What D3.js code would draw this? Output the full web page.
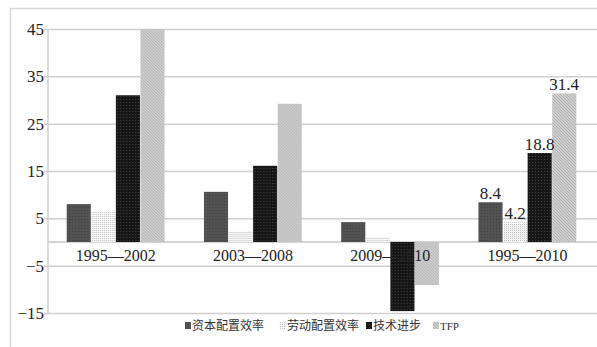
<!DOCTYPE html>
<html>
<head>
<meta charset="utf-8">
<script src="https://cdn.jsdelivr.net/npm/d3@7"></script>
<style>
  html, body { margin: 0; padding: 0; background: #fff; }
  svg { display: block; }
  .serif { font-family: "Liberation Serif", "Times New Roman", "DejaVu Serif", serif; }
  .cjk { font-family: "Noto Sans CJK SC", sans-serif; }
</style>
</head>
<body>
<svg id="chart" width="597" height="347"></svg>
<script>
// Periods and the four components of productivity growth (%)
const periods = ["1995—2002", "2003—2008", "2009—2010", "1995—2010"];
const seriesNames = ["资本配置效率", "劳动配置效率", "技术进步", "TFP"];
const capitalAlloc = [8.0, 10.6, 4.2, 8.4];
const laborAlloc = [6.4, 2.2, 1.0, 4.2];
const techProgress = [31.0, 16.1, -14.6, 18.8];
const tfp = [45.0, 29.2, -9.1, 31.4];
const yTicks = [45, 35, 25, 15, 5, -5, -15];
// Values printed above the bars of the last period
const labelledPeriod = "1995—2010";

const seriesValues = [capitalAlloc, laborAlloc, techProgress, tfp];

const svg = d3.select("#chart");
const W = 597, H = 347;
const plotLeft = 47, plotRight = 596, plotTop = 29, plotBottom = 313;

// Fill patterns for the four series
const defs = svg.append("defs");
function pat(id, size, build) {
  const p = defs.append("pattern").attr("id", id)
    .attr("patternUnits", "userSpaceOnUse").attr("width", size).attr("height", size);
  build(p);
}
pat("pCapital", 3, p => {
  p.append("rect").attr("width", 3).attr("height", 3).attr("fill", "#525252");
  p.append("rect").attr("width", 1).attr("height", 1).attr("fill", "#3e3e3e");
});
pat("pLabor", 2, p => {
  p.append("rect").attr("width", 2).attr("height", 2).attr("fill", "#f8f8f8");
  p.append("rect").attr("width", 1).attr("height", 1).attr("fill", "#bdbdbd");
});
pat("pTech", 3, p => {
  p.append("rect").attr("width", 3).attr("height", 3).attr("fill", "#161616");
  p.append("rect").attr("width", 1).attr("height", 1).attr("fill", "#444");
});
pat("pTfp", 3, p => {
  p.append("rect").attr("width", 3).attr("height", 3).attr("fill", "#cfcfcf");
  p.append("path").attr("d", "M0,0 L3,3 M-1,2 L1,4 M2,-1 L4,1")
    .attr("stroke", "#aaaaaa").attr("stroke-width", 0.8);
});
const fills = ["url(#pCapital)", "url(#pLabor)", "url(#pTech)", "url(#pTfp)"];

// Outer frame
svg.append("path").attr("d", `M10.5,${H} L10.5,8.5 L${W},8.5`)
  .attr("fill", "none").attr("stroke", "#d6d6d6").attr("stroke-width", 1.5);

const y = d3.scaleLinear().domain([-15, 45]).range([plotBottom, plotTop]);
const x0 = d3.scaleBand().domain(periods).range([plotLeft, plotRight])
  .paddingInner(0.28).paddingOuter(0.14);
const x1 = d3.scaleBand().domain(seriesNames).range([0, x0.bandwidth()]).padding(0.02);

// Gridlines and value axis
const yAxis = d3.axisLeft(y).tickValues(yTicks)
  .tickSize(-(W - plotLeft + 4)).tickPadding(4)
  .tickFormat(d => d < 0 ? "−" + Math.abs(d) : String(d));
const gy = svg.append("g").attr("transform", `translate(${plotLeft + 1},0)`).call(yAxis)
  .attr("font-family", null).attr("font-size", null);
gy.select(".domain").remove();
gy.selectAll(".tick line").attr("x1", -4).attr("stroke", "#cfcfcf").attr("stroke-width", 1.5);
gy.selectAll(".tick text").attr("class", "serif")
  .style("font-size", "17px").attr("fill", "#222").attr("x", -4);
svg.append("line").attr("x1", plotLeft + 1).attr("x2", plotLeft + 1)
  .attr("y1", plotTop).attr("y2", plotBottom).attr("stroke", "#cfcfcf").attr("stroke-width", 1.5);

// Zero line
svg.append("line").attr("x1", plotLeft + 1).attr("x2", W)
  .attr("y1", y(0)).attr("y2", y(0)).attr("stroke", "#c4c4c4").attr("stroke-width", 1.5);

// Bars
const rows = periods.map((p, i) => ({
  period: p,
  items: seriesNames.map((s, j) => ({ series: s, j, value: seriesValues[j][i] }))
}));
const groups = svg.append("g").selectAll("g").data(rows).join("g")
  .attr("transform", d => `translate(${x0(d.period)},0)`);
groups.selectAll("rect").data(d => d.items).join("rect")
  .attr("x", d => x1(d.series))
  .attr("width", x1.bandwidth())
  .attr("y", d => y(Math.max(0, d.value)))
  .attr("height", d => Math.abs(y(d.value) - y(0)))
  .attr("fill", d => fills[d.j]);

// Category labels sit on top of the bars
const xAxis = d3.axisBottom(x0).tickSize(0).tickPadding(8);
const gx = svg.append("g").attr("transform", `translate(0,${y(0)})`).call(xAxis)
  .attr("font-family", null).attr("font-size", null);
gx.select(".domain").remove();
gx.selectAll(".tick text").attr("class", "serif")
  .style("font-size", "16px").attr("fill", "#222");

// Value labels
groups.filter(d => d.period === labelledPeriod)
  .selectAll("text").data(d => d.items).join("text")
  .attr("class", "serif")
  .attr("x", d => x1(d.series) + x1.bandwidth() / 2)
  .attr("y", d => y(d.value) - 3)
  .attr("text-anchor", "middle")
  .style("font-size", "17px").attr("fill", "#222")
  .text(d => d3.format(".1f")(d.value));

// Legend
const legend = svg.append("g").attr("transform", "translate(185,330)");
const legendLayout = [0, 95, 181, 248];
seriesNames.forEach((s, j) => {
  const g = legend.append("g").attr("transform", `translate(${legendLayout[j]},0)`);
  g.append("rect").attr("x", 0).attr("y", -8).attr("width", 6).attr("height", 7)
    .attr("fill", fills[j]).attr("stroke", j === 1 ? "#ddd" : "none").attr("stroke-width", 0.5);
  g.append("text").attr("x", 7).attr("y", 0)
    .attr("class", j === 3 ? "serif" : "cjk")
    .style("font-size", j === 3 ? "11px" : "12px").attr("fill", "#333")
    .text(s);
});
</script>
</body>
</html>
